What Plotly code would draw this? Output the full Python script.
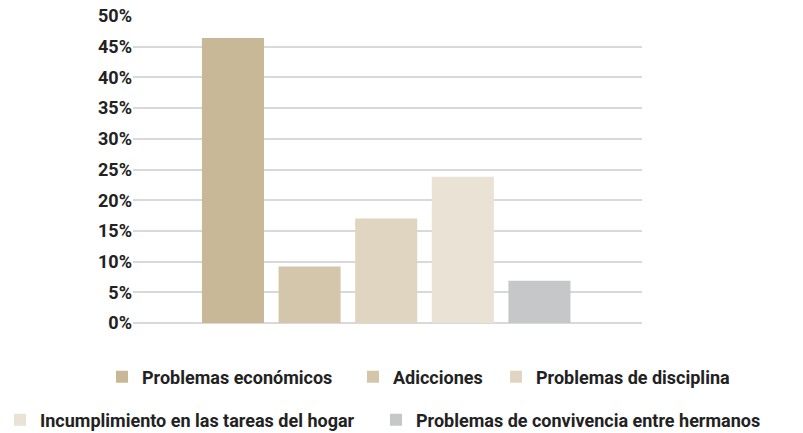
import plotly.graph_objects as go

categories = [
    "Problemas económicos",
    "Adicciones",
    "Problemas de disciplina",
    "Incumplimiento en las tareas del hogar",
    "Problemas de convivencia entre hermanos",
]
values = [46.4, 9.2, 17.0, 23.8, 6.9]
colors = ["#c8b898", "#d4c6aa", "#e0d5c0", "#e9e2d5", "#c6c7c8"]
y_ticks = [0, 5, 10, 15, 20, 25, 30, 35, 40, 45, 50]
y_tick_text = [f"{v}%" for v in y_ticks]

W, H = 803, 433
# legend entry placement (text start x in px, row centre y in px)
legend_ids = ["legend", "legend2", "legend3", "legend4", "legend5"]
legend_text_x = [142, 393, 536, 37, 416]
legend_row_y = [377, 377, 377, 420, 420]

fig = go.Figure()
for name, val, col, lg in zip(categories, values, colors, legend_ids):
    fig.add_trace(go.Bar(
        x=[name], y=[val], name=name,
        marker=dict(color=col, line=dict(width=0)),
        legend=lg,
        hovertemplate="%{x}: %{y}%<extra></extra>",
    ))

font_family = "Roboto, 'Liberation Sans', sans-serif"
lfont = dict(family=font_family, size=18, color="#222222", weight="bold")

legends = {}
for lg, tx, ry in zip(legend_ids, legend_text_x, legend_row_y):
    legends[lg] = dict(
        orientation="h", xref="container", yref="container",
        x=(tx - 40) / W, y=1 - ry / H, xanchor="left", yanchor="middle",
        font=lfont, bgcolor="rgba(0,0,0,0)", borderwidth=0,
        itemclick=False, itemdoubleclick=False,
    )

fig.update_layout(
    width=W, height=H,
    margin=dict(l=133, r=161, t=16, b=110, autoexpand=False),
    paper_bgcolor="white", plot_bgcolor="white",
    barmode="overlay", bargap=0.19,
    font=dict(family=font_family, color="#222222"),
    xaxis=dict(
        type="category", categoryorder="array", categoryarray=categories,
        showticklabels=False, showgrid=False, zeroline=False, showline=False,
        range=[-1.305, 5.339], fixedrange=True,
    ),
    yaxis=dict(
        range=[0, 50], tickmode="array", tickvals=y_ticks, ticktext=y_tick_text,
        showgrid=True, gridcolor="#d9d9d9", gridwidth=2,
        zeroline=True, zerolinecolor="#d9d9d9", zerolinewidth=2,
        showline=False, ticks="",
        tickfont=dict(family=font_family, size=18, color="#222222", weight="bold"),
        fixedrange=True,
    ),
    showlegend=True,
    **legends,
)

fig.write_html(
    "out.html",
    config={"displayModeBar": False},
    post_script="document.body.style.margin='0';document.body.style.overflow='hidden';",
)
